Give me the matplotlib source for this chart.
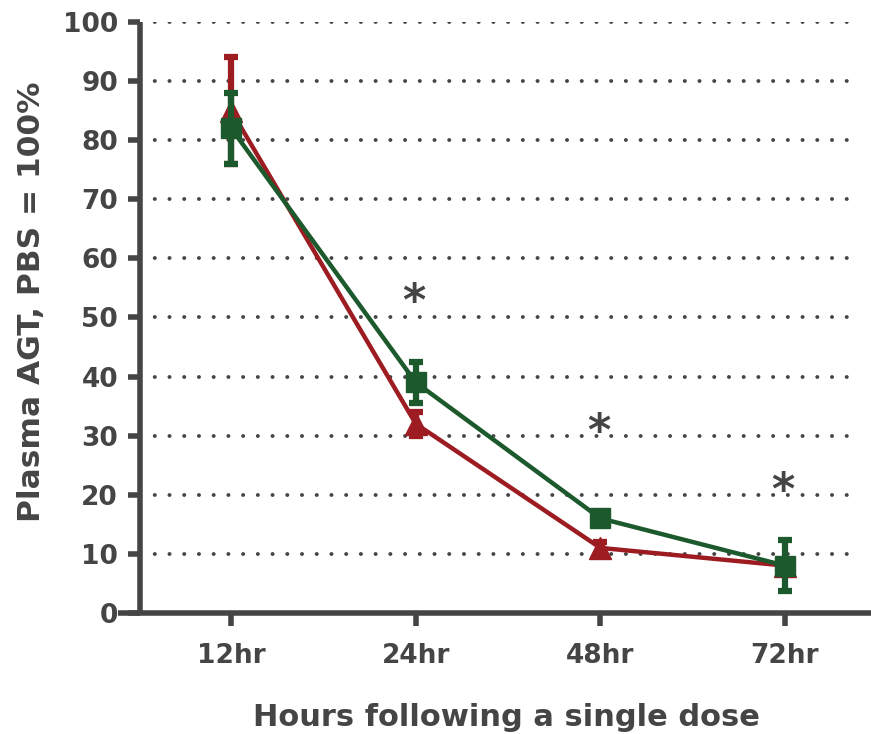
import matplotlib.pyplot as plt
import numpy as np

plt.rcParams['font.family'] = ['DejaVu Sans']
plt.rcParams['lines.scale_dashes'] = False

# time points and plasma AGT (% of PBS), mean and error
timepoints = ['12hr', '24hr', '48hr', '72hr']
red_mean = [85, 32, 11, 8]
red_err = [9, 2, 1, 1]
green_mean = [82, 39, 16, 8]
green_err = [6, 3.4, 1, 4.3]

# significance marks: (timepoint index, height)
star_pos = [1, 2, 3]
star_y = [52.5, 30.5, 20.5]

red = '#9c1c22'
green = '#1c5a2d'
dark = '#454545'

fig = plt.figure(figsize=(8.71, 7.34), dpi=100)
ax = fig.add_axes([0.161, 0.165, 0.826, 0.805])

x = np.arange(len(timepoints))

# dotted horizontal grid
for yv in range(10, 101, 10):
    ax.plot([-0.493, 3.4], [yv, yv], color=dark, lw=2.8,
            dashes=(0.1, 10.5), dash_capstyle='round', zorder=1)

ax.errorbar(x, red_mean, yerr=red_err, color=red, lw=3.2, marker='^', ms=16,
            elinewidth=4.5, capsize=4.8, capthick=4.5, zorder=3)
ax.errorbar(x, green_mean, yerr=green_err, color=green, lw=3.2, marker='s', ms=15,
            elinewidth=4.5, capsize=4.8, capthick=4.5, zorder=4)

for xi, yi in zip(star_pos, star_y):
    ax.text(xi - 0.01, yi, '*', ha='center', va='center', fontsize=32,
            fontweight='bold', color=dark, zorder=5)

ax.set_xlim(-0.493, 3.405)
ax.set_ylim(0, 100)
ax.set_yticks(range(0, 101, 10))
ax.set_xticks(x)
ax.set_xticklabels(timepoints)

for side in ['top', 'right']:
    ax.spines[side].set_visible(False)
for side in ['left', 'bottom']:
    ax.spines[side].set_color(dark)
    ax.spines[side].set_linewidth(4)
    ax.spines[side].set_capstyle('butt')
ax.spines['bottom'].set_bounds(-0.612, 3.47)

ax.tick_params(axis='both', colors=dark, width=4, length=9,
               labelsize=19)
ax.tick_params(axis='y', pad=7)
ax.tick_params(axis='x', pad=13)
for lab in ax.get_xticklabels() + ax.get_yticklabels():
    lab.set_fontweight('bold')

fig.text(0.036, 0.589, 'Plasma AGT, PBS = 100%', rotation=90, ha='center',
         va='center', fontsize=22.5, fontweight='bold', color=dark)
fig.text(0.582, 0.011, 'Hours following a single dose', ha='center',
         va='baseline', fontsize=22, fontweight='bold', color=dark)

fig.savefig('out.png', dpi=100, facecolor='white')
